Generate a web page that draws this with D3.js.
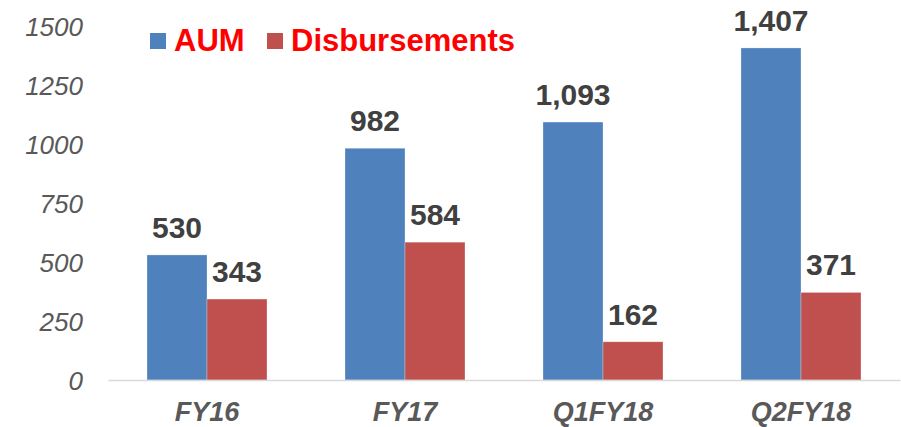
<!DOCTYPE html>
<html>
<head>
<meta charset="utf-8">
<script src="https://cdnjs.cloudflare.com/ajax/libs/d3/7.8.5/d3.min.js"></script>
<style>
  html, body { margin: 0; padding: 0; background: #fff; }
  svg { display: block; font-family: "Liberation Sans", Arial, sans-serif; }
</style>
</head>
<body>
<svg id="chart" width="901" height="427"></svg>
<script>
// Periods along the x axis
const categories = ["FY16", "FY17", "Q1FY18", "Q2FY18"];
// Series values (Rs crore)
const aum = [530, 982, 1093, 1407];
const disbursements = [343, 584, 162, 371];
const seriesNames = ["AUM", "Disbursements"];
const yTicks = [0, 250, 500, 750, 1000, 1250, 1500];

const colors = { AUM: "#4F81BD", Disbursements: "#C0504D" };

const svg = d3.select("#chart");
const margin = { left: 108, right: 1, top: 26, bottom: 47 };
const W = 901, H = 427;

const x = d3.scaleBand()
  .domain(categories)
  .range([margin.left, W - margin.right])
  .paddingInner(0.394)
  .paddingOuter(0.197);

const x1 = d3.scaleBand()
  .domain(seriesNames)
  .range([0, x.bandwidth()]);

const y = d3.scaleLinear()
  .domain([0, 1500])
  .range([H - margin.bottom, margin.top]);

const rows = categories.map((c, i) => ({
  cat: c,
  values: [
    { key: "AUM", value: aum[i] },
    { key: "Disbursements", value: disbursements[i] }
  ]
}));

// Y axis labels (no axis line, no gridlines)
const yAxis = d3.axisLeft(y)
  .tickValues(yTicks)
  .tickFormat(d3.format("d"))
  .tickSize(0)
  .tickPadding(0);
const gy = svg.append("g")
  .attr("transform", `translate(${83},0)`)
  .call(yAxis);
gy.select(".domain").remove();
gy.selectAll("text")
  .attr("fill", "#595959")
  .style("font-size", "26px")
  .style("font-style", "italic")
  .attr("dy", "0.36em");

// Bars
const groups = svg.append("g").selectAll("g")
  .data(rows)
  .join("g")
  .attr("transform", d => `translate(${x(d.cat)},0)`);

groups.selectAll("rect")
  .data(d => d.values)
  .join("rect")
  .attr("x", d => x1(d.key))
  .attr("y", d => y(d.value))
  .attr("width", x1.bandwidth())
  .attr("height", d => y(0) - y(d.value))
  .attr("fill", d => colors[d.key])
  .attr("stroke", "#ffffff")
  .attr("stroke-opacity", 0.35)
  .attr("stroke-width", 0.8);

// Value labels
groups.selectAll("text.val")
  .data(d => d.values)
  .join("text")
  .attr("class", "val")
  .attr("x", d => x1(d.key) + x1.bandwidth() / 2)
  .attr("y", d => y(d.value) - 17)
  .attr("text-anchor", "middle")
  .attr("fill", "#404040")
  .style("font-size", "30px")
  .style("font-weight", "bold")
  .text(d => d3.format(",")(d.value));

// X axis baseline and category labels
const xAxis = d3.axisBottom(x).tickSize(0).tickPadding(0);
const gx = svg.append("g")
  .attr("transform", `translate(0,${y(0)})`)
  .call(xAxis);
gx.select(".domain")
  .attr("stroke", "#D9D9D9")
  .attr("stroke-width", 1.5);
gx.selectAll("text")
  .attr("y", 41)
  .attr("dy", 0)
  .attr("fill", "#595959")
  .style("font-size", "27px")
  .style("font-weight", "bold")
  .style("font-style", "italic");

// Legend
const legend = svg.append("g");
const legendItems = [
  { key: "AUM", x: 150 },
  { key: "Disbursements", x: 267 }
];
legendItems.forEach(it => {
  legend.append("rect")
    .attr("x", it.x).attr("y", 33)
    .attr("width", 16).attr("height", 16)
    .attr("fill", colors[it.key]);
  legend.append("text")
    .attr("x", it.x + 24).attr("y", 51)
    .attr("fill", "#FF0000")
    .style("font-size", "31px")
    .style("font-weight", "bold")
    .text(it.key);
});
</script>
</body>
</html>
